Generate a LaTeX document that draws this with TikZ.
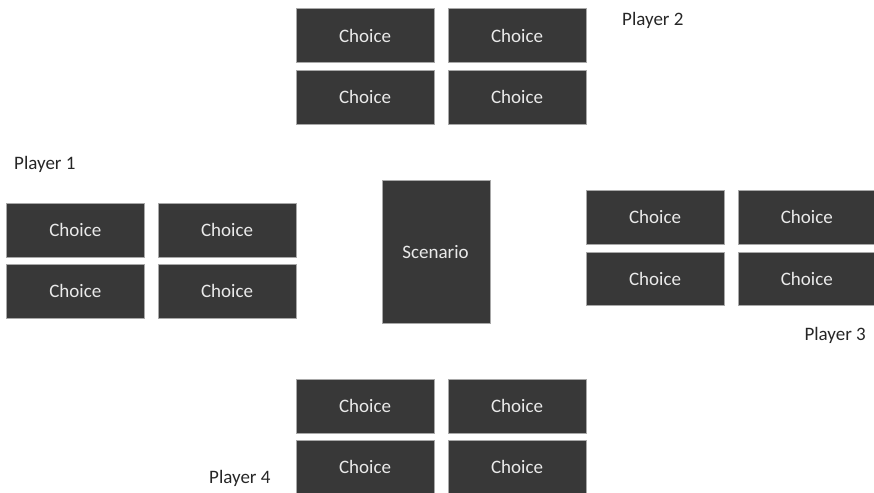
\documentclass[tikz,border=0pt]{standalone}
\usepackage{fontspec}
\setmainfont{Carlito}
\definecolor{boxfill}{HTML}{383838}
\definecolor{boxedge}{HTML}{A8A8A8}
\definecolor{boxtext}{HTML}{EAEAEA}
\definecolor{labeltext}{HTML}{262626}
\begin{document}
\begin{tikzpicture}[x=1pt,y=-1pt,
  card/.style={fill=boxfill,draw=boxedge,line width=0.6pt,text=boxtext,
    font=\fontsize{19}{21}\selectfont,inner sep=0pt,anchor=north west},
  playerlabel/.style={text=labeltext,font=\fontsize{19}{21}\selectfont,inner sep=0pt}]
\useasboundingbox (0,0) rectangle (874,492);
% top group (player 2)
\node[card,minimum width=137.5pt,minimum height=54pt] (t1) at (296,8.5) {Choice};
\node[card,minimum width=137.5pt,minimum height=54pt] (t2) at (448,8.5) {Choice};
\node[card,minimum width=137.5pt,minimum height=53.5pt] (t3) at (296,70) {Choice};
\node[card,minimum width=137.5pt,minimum height=53.5pt] (t4) at (448,70) {Choice};
\node[playerlabel,anchor=west] (p2) at (622,20.5) {Player 2};
% left group (player 1)
\node[card,minimum width=138pt,minimum height=53.5pt] (l1) at (6,203) {Choice};
\node[card,minimum width=137.5pt,minimum height=53.5pt] (l2) at (158,203) {Choice};
\node[card,minimum width=138pt,minimum height=54pt] (l3) at (6,263.5) {Choice};
\node[card,minimum width=137.5pt,minimum height=54pt] (l4) at (158,263.5) {Choice};
\node[playerlabel,anchor=west] (p1) at (14,164.5) {Player 1};
% scenario in the middle
\node[card,minimum width=108.5pt,minimum height=143pt,anchor=north west] (sc) at (381.5,179.5) {};
\node[text=boxtext,font=\fontsize{19}{21}\selectfont,inner sep=0pt] (sct) at (435.5,252.5) {Scenario};
% right group (player 3)
\node[card,minimum width=137.5pt,minimum height=53.5pt] (r1) at (586,190) {Choice};
\node[card,minimum width=138pt,minimum height=53.5pt] (r2) at (737.5,190) {Choice};
\node[card,minimum width=137.5pt,minimum height=53.5pt] (r3) at (586,251.5) {Choice};
\node[card,minimum width=138pt,minimum height=53.5pt] (r4) at (737.5,251.5) {Choice};
\node[playerlabel,anchor=east] (p3) at (866,335.5) {Player 3};
% bottom group (player 4)
\node[card,minimum width=137.5pt,minimum height=53.5pt] (b1) at (296,379) {Choice};
\node[card,minimum width=137.5pt,minimum height=53.5pt] (b2) at (448,379) {Choice};
\node[card,minimum width=137.5pt,minimum height=54pt] (b3) at (296,440) {Choice};
\node[card,minimum width=137.5pt,minimum height=54pt] (b4) at (448,440) {Choice};
\node[playerlabel,anchor=west] (p4) at (209,478.5) {Player 4};
\end{tikzpicture}
\end{document}
